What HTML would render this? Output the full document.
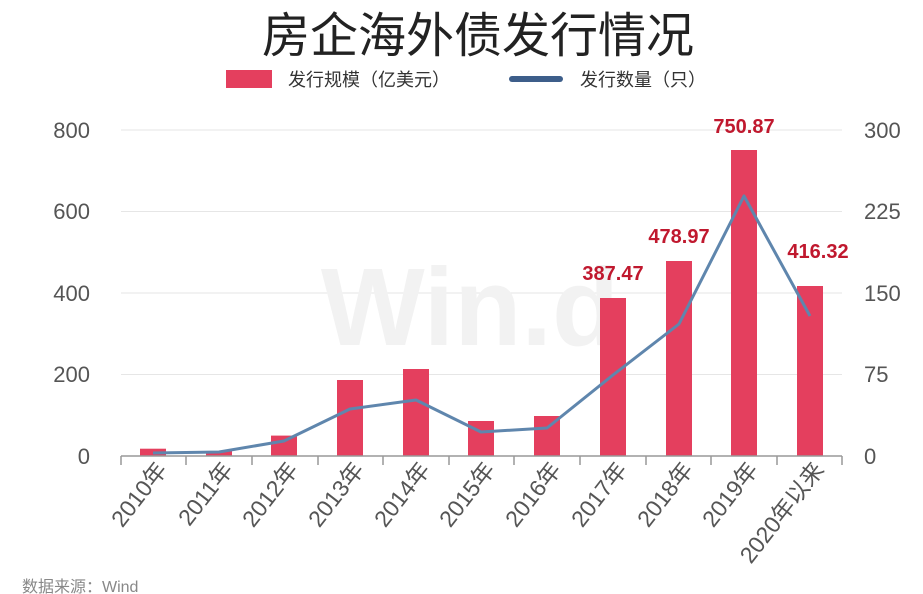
<!DOCTYPE html>
<html><head><meta charset="utf-8"><style>
body{margin:0;background:#fff;}
svg{display:block;font-family:"Liberation Sans","Noto Sans CJK SC",sans-serif;}
</style></head><body>
<svg width="923" height="594" viewBox="0 0 923 594">
<rect width="923" height="594" fill="#fff"/>
<text x="478" y="52" font-size="48" text-anchor="middle" fill="#222">房企海外债发行情况</text>
<rect x="226" y="70" width="46" height="18" fill="#e43f5e"/>
<text x="288" y="86" font-size="18" fill="#333">发行规模（亿美元）</text>
<line x1="512" y1="79" x2="560" y2="79" stroke="#3d5e8a" stroke-width="6" stroke-linecap="round"/>
<text x="580" y="86" font-size="18" fill="#333">发行数量（只）</text>
<g stroke="#e6e6e6" stroke-width="1">
<line x1="121" y1="130" x2="842" y2="130"/><line x1="121" y1="211.5" x2="842" y2="211.5"/>
<line x1="121" y1="293" x2="842" y2="293"/><line x1="121" y1="374.5" x2="842" y2="374.5"/>
</g>
<text x="470" y="345" font-size="110" font-weight="bold" fill="#f2f2f2" text-anchor="middle">Win.d</text>
<g font-size="22" fill="#555" text-anchor="end">
<text x="90" y="138">800</text><text x="90" y="219">600</text><text x="90" y="301">400</text><text x="90" y="382">200</text><text x="90" y="464">0</text>
</g>
<g font-size="22" fill="#555">
<text x="864" y="138">300</text><text x="864" y="219">225</text><text x="864" y="301">150</text><text x="864" y="382">75</text><text x="864" y="464">0</text>
</g>
<g fill="#e43f5e">
<rect x="140" y="448.7" width="26" height="7.3"/>
<rect x="206" y="451" width="26" height="5"/>
<rect x="271" y="435.6" width="26" height="20.4"/>
<rect x="337" y="380" width="26" height="76"/>
<rect x="403" y="369" width="26" height="87"/>
<rect x="468" y="421" width="26" height="35"/>
<rect x="534" y="416" width="26" height="40"/>
<rect x="600" y="298" width="26" height="158"/>
<rect x="666" y="261" width="26" height="195"/>
<rect x="731" y="150" width="26" height="306"/>
<rect x="797" y="286" width="26" height="170"/>
</g>
<line x1="121" y1="456" x2="842" y2="456" stroke="#999" stroke-width="1.5"/>
<g stroke="#999" stroke-width="1.5">
<line x1="121" y1="456" x2="121" y2="465"/><line x1="186" y1="456" x2="186" y2="465"/><line x1="252" y1="456" x2="252" y2="465"/><line x1="318" y1="456" x2="318" y2="465"/><line x1="383" y1="456" x2="383" y2="465"/><line x1="449" y1="456" x2="449" y2="465"/><line x1="514" y1="456" x2="514" y2="465"/><line x1="580" y1="456" x2="580" y2="465"/><line x1="646" y1="456" x2="646" y2="465"/><line x1="711" y1="456" x2="711" y2="465"/><line x1="777" y1="456" x2="777" y2="465"/><line x1="842" y1="456" x2="842" y2="465"/>
</g>
<polyline fill="none" stroke="#5f86ad" stroke-width="3" stroke-linejoin="round" points="153,453 219,452 284,441 350,409 416,400 481,432 547,428 613,375 679,324 744,196 810,316"/>
<g font-size="20" font-weight="bold" fill="#c0182e" text-anchor="middle">
<text x="613" y="280">387.47</text><text x="679" y="243">478.97</text><text x="744" y="133">750.87</text><text x="818" y="258">416.32</text>
</g>
<g font-size="23" fill="#555" text-anchor="end">
<text transform="translate(168,470) rotate(-52)">2010年</text>
<text transform="translate(234,470) rotate(-52)">2011年</text>
<text transform="translate(299,470) rotate(-52)">2012年</text>
<text transform="translate(365,470) rotate(-52)">2013年</text>
<text transform="translate(431,470) rotate(-52)">2014年</text>
<text transform="translate(496,470) rotate(-52)">2015年</text>
<text transform="translate(562,470) rotate(-52)">2016年</text>
<text transform="translate(628,470) rotate(-52)">2017年</text>
<text transform="translate(694,470) rotate(-52)">2018年</text>
<text transform="translate(759,470) rotate(-52)">2019年</text>
<text transform="translate(825,470) rotate(-52)">2020年以来</text>
</g>
<text x="22" y="592" font-size="16" fill="#888">数据来源：Wind</text>
</svg>
</body></html>
